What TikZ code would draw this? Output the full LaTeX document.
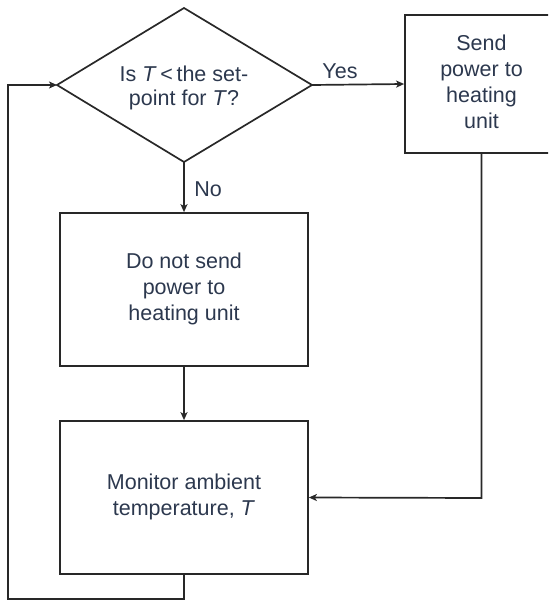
\documentclass[tikz,border=0pt]{standalone}
\usepackage{fontspec}
\setmainfont{Liberation Sans}
\usetikzlibrary{arrows.meta}
\definecolor{txt}{RGB}{44,56,78}
\definecolor{ln}{RGB}{40,40,40}
\tikzset{
  box/.style={draw=ln, line width=1.7pt, rectangle, inner sep=0pt, align=center, text=txt,
    font=\fontsize{21.5}{26}\selectfont},
  lab/.style={text=txt, font=\fontsize{21.5}{24}\selectfont, inner sep=0pt, align=center},
  conn/.style={draw=ln, line width=1.7pt, -{Stealth[length=8pt,width=7pt,inset=2pt]}},
  plain/.style={draw=ln, line width=1.7pt, line join=miter}
}
\begin{document}
\begin{tikzpicture}[x=1pt,y=-1pt]
\useasboundingbox (0,0) rectangle (548,601);
\clip (0,0) rectangle (548,601);
% decision diamond
\coordinate (dT) at (184,8);
\coordinate (dL) at (57,85);
\coordinate (dR) at (312,85);
\coordinate (dB) at (184,162);
\draw[plain] (dT) -- (dR) -- (dB) -- (dL) -- cycle;
\node[lab] (dia) at (184,88) {Is \textit{T}\,<\,the set-\\point for \textit{T}?};
\node[box, minimum width=153pt, minimum height=138pt] (send) at (481.5,84) {\raisebox{-3pt}{\begin{tabular}{@{}c@{}}Send\\power to\\heating\\unit\end{tabular}}};
\node[box, minimum width=248pt, minimum height=153pt] (do) at (184,289.5) {\raisebox{-5pt}{\begin{tabular}{@{}c@{}}Do not send\\power to\\heating unit\end{tabular}}};
\node[box, minimum width=248pt, minimum height=153pt] (mon) at (184,497.5) {\raisebox{-6pt}{\begin{tabular}{@{}c@{}}Monitor ambient\\temperature, \textit{T}\end{tabular}}};
\node[lab] (yes) at (340,71) {Yes};
\node[lab] (no) at (208,189) {No};
\coordinate (c1) at (184,599);
\coordinate (c2) at (8,599);
\coordinate (c3) at (8,85);
\coordinate (c4) at (481.5,498);
\draw[conn] (dR) -- (send.west);
\draw[conn] (dB) -- (do.north);
\draw[conn] (do.south) -- (mon.north);
\draw[conn] (send.south) -- (c4) -- (mon.east);
\draw[conn] (mon.south) -- (c1) -- (c2) -- (c3) -- (dL);
\end{tikzpicture}
\end{document}
